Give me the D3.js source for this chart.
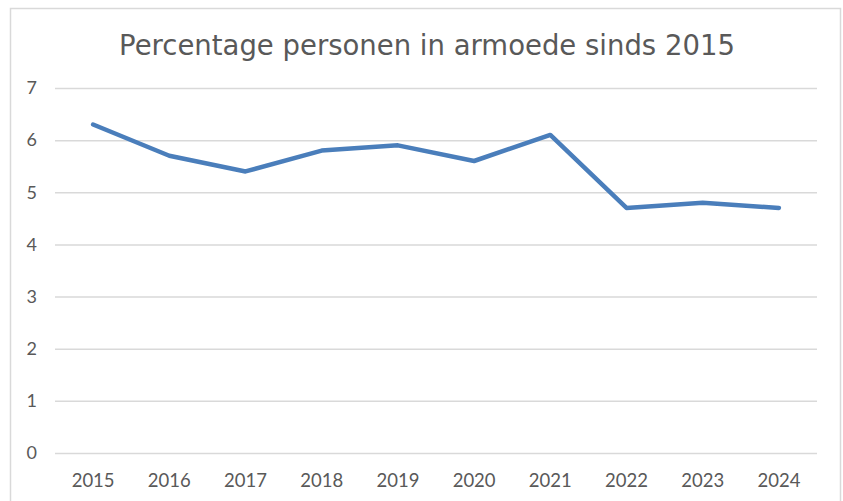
<!DOCTYPE html>
<html>
<head>
<meta charset="utf-8">
<script src="https://cdn.jsdelivr.net/npm/d3@7"></script>
<style>
  body { margin: 0; background: #fff; }
</style>
</head>
<body>
<div id="wrapper"></div>
<script>
const years = ["2015", "2016", "2017", "2018", "2019", "2020", "2021", "2022", "2023", "2024"]
const armoede = [6.3, 5.7, 5.4, 5.8, 5.9, 5.6, 6.1, 4.7, 4.8, 4.7]
const yTicks = [0, 1, 2, 3, 4, 5, 6, 7]
const title = "Percentage personen in armoede sinds 2015"

const xAccessor = (d, i) => years[i]
const yAccessor = d => d

let dimensions = {
    width: 843,
    height: 501,
    margin: {
        top: 88,
        right: 26,
        bottom: 48,
        left: 55,
    },
}
dimensions.boundedWidth = dimensions.width
    - dimensions.margin.left
    - dimensions.margin.right
dimensions.boundedHeight = dimensions.height
    - dimensions.margin.top
    - dimensions.margin.bottom

const wrapper = d3.select("#wrapper")
    .append("svg")
    .attr("width", dimensions.width)
    .attr("height", dimensions.height)

// chart border
wrapper.append("rect")
    .attr("x", 10.5)
    .attr("y", 8.5)
    .attr("width", 830)
    .attr("height", 510)
    .attr("fill", "white")
    .attr("stroke", "#d9d9d9")
    .attr("stroke-width", 1.5)

wrapper.append("text")
    .attr("x", 427)
    .attr("y", 55)
    .attr("text-anchor", "middle")
    .attr("font-family", "DejaVu Sans, sans-serif")
    .attr("font-size", "27.5px")
    .attr("fill", "#595959")
    .text(title)

const bounds = wrapper.append("g")
    .attr("transform", `translate(${dimensions.margin.left},${dimensions.margin.top})`)

const xScaler = d3.scaleBand()
    .domain(years)
    .range([0, dimensions.boundedWidth])
    .padding(0)

const yScaler = d3.scaleLinear()
    .domain([0, 7])
    .range([dimensions.boundedHeight, 0])

// gridlines
const yAxisGen = d3.axisLeft(yScaler)
    .tickValues(yTicks)
    .tickFormat(d3.format("d"))
    .tickSize(-dimensions.boundedWidth)
    .tickPadding(18)
const yAxis = bounds.append("g")
    .call(yAxisGen)
yAxis.select(".domain").remove()
yAxis.selectAll(".tick line")
    .attr("stroke", "#d9d9d9")
    .attr("stroke-width", 1.5)
yAxis.selectAll(".tick text")
    .attr("font-family", "Lato, sans-serif")
    .attr("font-size", "18px")
    .attr("fill", "#595959")

const xAxisGen = d3.axisBottom(xScaler)
    .tickSize(0)
    .tickPadding(21)
const xAxis = bounds.append("g")
    .attr("transform", `translate(0,${dimensions.boundedHeight})`)
    .call(xAxisGen)
xAxis.select(".domain").remove()
xAxis.selectAll(".tick text")
    .attr("font-family", "Lato, sans-serif")
    .attr("font-size", "18.5px")
    .attr("fill", "#595959")

const lineGen = d3.line()
    .x((d, i) => xScaler(xAccessor(d, i)) + xScaler.bandwidth() / 2)
    .y(d => yScaler(yAccessor(d)))

bounds.append("path")
    .datum(armoede)
    .attr("d", lineGen)
    .attr("fill", "none")
    .attr("stroke", "#4a7ebb")
    .attr("stroke-width", 4.5)
    .attr("stroke-linejoin", "round")
    .attr("stroke-linecap", "round")
</script>
</body>
</html>
